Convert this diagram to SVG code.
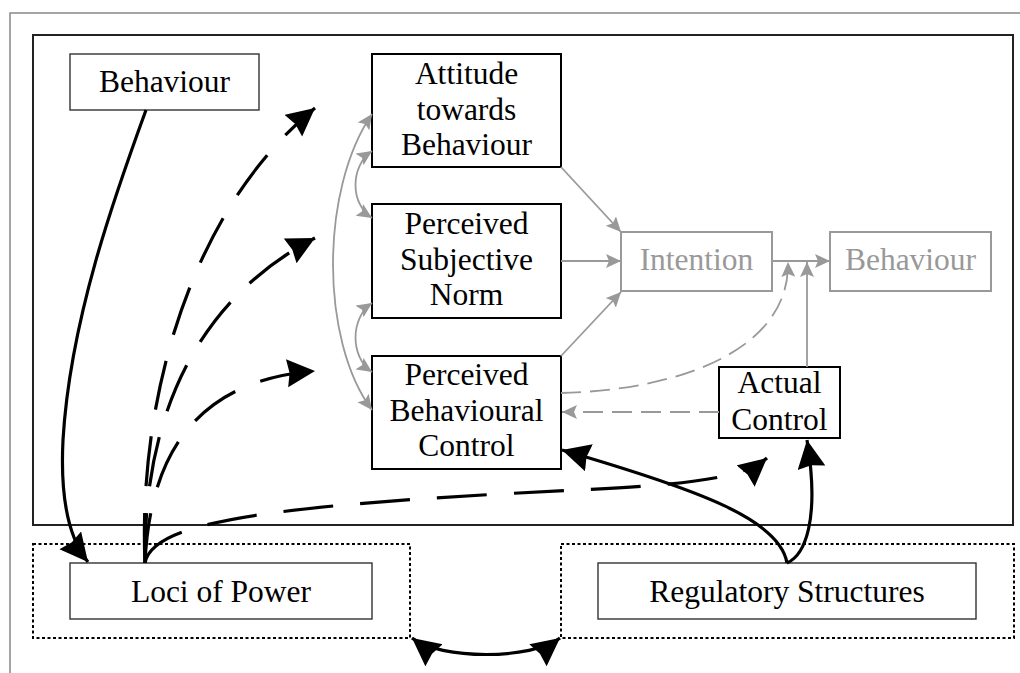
<svg xmlns="http://www.w3.org/2000/svg" width="1020" height="673" viewBox="0 0 1020 673">
<style>
  .t { font-family: "Liberation Serif", "Times New Roman", serif; font-size: 31.5px; text-anchor: middle; fill: #000; }
  .tg { fill: #999; }
  .box { fill: #fff; stroke: #000; stroke-width: 2; }
  .boxthin { fill: #fff; stroke: #333; stroke-width: 1.4; }
  .boxgray { fill: #fff; stroke: #999; stroke-width: 2; }
  .dotted { fill: none; stroke: #000; stroke-width: 2; stroke-dasharray: 3 2.5; }
  .gline { fill: none; stroke: #999; stroke-width: 1.8; }
  .gdash { fill: none; stroke: #999; stroke-width: 1.8; stroke-dasharray: 20 9; }
  .bline { fill: none; stroke: #000; stroke-width: 3.2; }
  .bdash { fill: none; stroke: #000; stroke-width: 3.2; stroke-dasharray: 50 27; }
</style>
<defs>
  <marker id="ab" markerUnits="userSpaceOnUse" markerWidth="32" markerHeight="32" refX="28" refY="14" orient="auto-start-reverse">
    <path d="M0,0 L28,14 L0,28 L2.5,14 z" fill="#000"/>
  </marker>
  <marker id="ag" markerUnits="userSpaceOnUse" markerWidth="16" markerHeight="15" refX="15" refY="7" orient="auto-start-reverse">
    <path d="M0,0 L15,7 L0,14 L3,7 z" fill="#999"/>
  </marker>
</defs>
<rect x="0" y="0" width="1020" height="673" fill="#fff"/>
<rect x="10" y="13" width="1020" height="700" fill="none" stroke="#888" stroke-width="1.5"/>
<rect id="frame" x="33" y="35" width="980" height="490" fill="none" stroke="#222" stroke-width="2"/>
<rect id="loci-frame" class="dotted" x="33" y="544" width="377" height="94"/>
<rect id="reg-frame" class="dotted" x="561" y="544" width="453" height="94"/>

<g id="behaviour-left">
  <rect class="boxthin" x="70" y="54" width="189" height="56"/>
  <text class="t" x="164.5" y="92">Behaviour</text>
</g>
<g id="attitude">
  <rect class="box" x="372" y="54" width="189" height="113"/>
  <text class="t" x="466.5" y="84">Attitude</text>
  <text class="t" x="466.5" y="119.5">towards</text>
  <text class="t" x="466.5" y="155">Behaviour</text>
</g>
<g id="subjective-norm">
  <rect class="box" x="372" y="204" width="189" height="114"/>
  <text class="t" x="466.5" y="234">Perceived</text>
  <text class="t" x="466.5" y="269.5">Subjective</text>
  <text class="t" x="466.5" y="305">Norm</text>
</g>
<g id="pbc">
  <rect class="box" x="372" y="356" width="189" height="113"/>
  <text class="t" x="466.5" y="385">Perceived</text>
  <text class="t" x="466.5" y="420.5">Behavioural</text>
  <text class="t" x="466.5" y="456">Control</text>
</g>
<g id="intention">
  <rect class="boxgray" x="621" y="232" width="151" height="59"/>
  <text class="t tg" x="696.5" y="270">Intention</text>
</g>
<g id="behaviour-right">
  <rect class="boxgray" x="830" y="232" width="161" height="59"/>
  <text class="t tg" x="910.5" y="270">Behaviour</text>
</g>
<g id="actual-control">
  <rect class="box" x="719" y="367" width="121" height="71"/>
  <text class="t" x="779.5" y="393">Actual</text>
  <text class="t" x="779.5" y="430">Control</text>
</g>
<g id="loci">
  <rect class="boxthin" x="70" y="563" width="302" height="56"/>
  <text class="t" x="221" y="601.5">Loci of Power</text>
</g>
<g id="regulatory">
  <rect class="boxthin" x="598" y="563" width="378" height="56"/>
  <text class="t" x="787" y="601.5">Regulatory Structures</text>
</g>

<g id="connectors">
  <path class="gline" d="M561,167 L621,232" marker-end="url(#ag)"/>
  <path class="gline" d="M561,261 L621,261" marker-end="url(#ag)"/>
  <path class="gline" d="M561,356 L621,292" marker-end="url(#ag)"/>
  <path class="gline" d="M772,261 L830,261" marker-end="url(#ag)"/>
  <path class="gline" d="M807,367 L807,262" marker-end="url(#ag)"/>
  <path class="gdash" d="M561,393 C680,390 790,350 788,262" marker-end="url(#ag)"/>
  <path class="gdash" d="M719,412 L562,412" marker-end="url(#ag)"/>
  <path class="gline" d="M372,151 C350,166 350,204 372,218" marker-start="url(#ag)" marker-end="url(#ag)"/>
  <path class="gline" d="M372,303 C350,318 350,357 372,372" marker-start="url(#ag)" marker-end="url(#ag)"/>
  <path class="gline" d="M372,114 C320,190 320,340 372,410" marker-start="url(#ag)" marker-end="url(#ag)"/>
  <path class="bline" d="M146,110 C115,195 70,320 63,440 C60,500 70,540 88,562" marker-end="url(#ab)"/>
  <path class="bdash" d="M145,563 C138,400 190,210 315,108" marker-end="url(#ab)"/>
  <path class="bdash" d="M145,563 C143,420 195,300 315,238" marker-end="url(#ab)"/>
  <path class="bdash" d="M145,563 C150,450 200,380 315,371" marker-end="url(#ab)"/>
  <path class="bdash" d="M145,563 C152,525 250,508 500,494 C650,486 735,485 767,458" marker-end="url(#ab)"/>
  <path class="bline" d="M787,563 C780,520 700,490 562,450" marker-end="url(#ab)"/>
  <path class="bline" d="M787,563 C805,555 820,520 807,440" marker-end="url(#ab)"/>
  <path class="bline" d="M412,638 C440,660 532,660 560,638" marker-start="url(#ab)" marker-end="url(#ab)"/>
</g>
</svg>
